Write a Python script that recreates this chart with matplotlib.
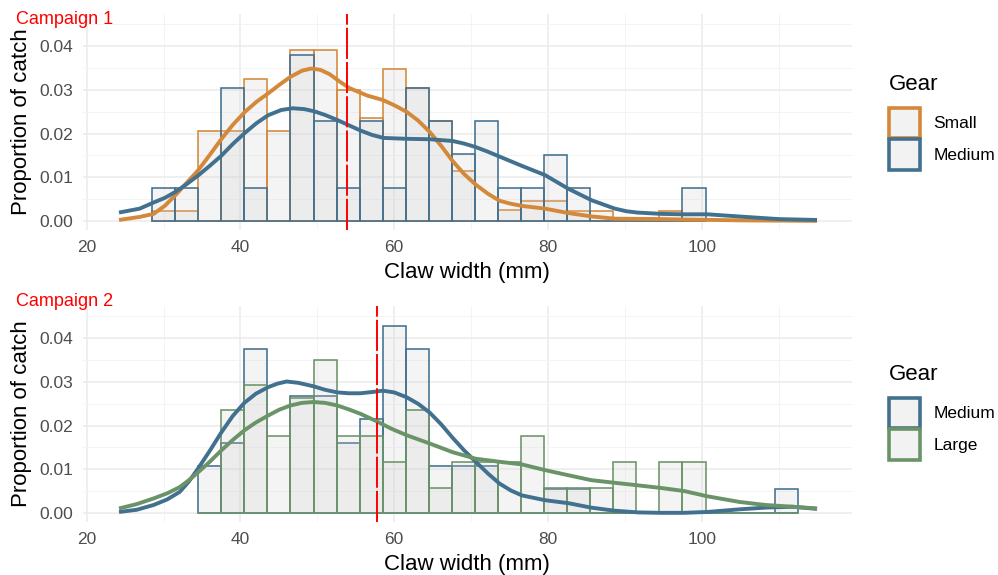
import matplotlib
matplotlib.use("Agg")
import matplotlib.pyplot as plt
from matplotlib.patches import Patch
from matplotlib.ticker import MultipleLocator, FormatStrFormatter

plt.rcParams['font.family'] = ['Liberation Sans', 'DejaVu Sans']

# ---------------- data ----------------
# Campaign 1
c1_bins = [30, 33, 36, 39, 42, 45, 48, 51, 54, 57, 60, 63, 66, 69, 72, 75, 78, 81, 84, 87, 90, 93, 96, 99]
c1_small = [0.0023, 0.0023, 0.0206, 0.0206, 0.0324, 0.0206, 0.0392, 0.0392, 0.0300, 0.0235, 0.0347, 0.0305,
            0.0229, 0.0115, 0.0, 0.0025, 0.0046, 0.0046, 0.0023, 0.0023, 0.0, 0.0, 0.0023, 0.0]
c1_medium = [0.0076, 0.0076, 0.0, 0.0305, 0.0076, 0.0, 0.0380, 0.0229, 0.0076, 0.0229, 0.0076, 0.0305,
             0.0229, 0.0153, 0.0229, 0.0076, 0.0076, 0.0152, 0.0076, 0.0, 0.0, 0.0, 0.0, 0.0076]
c1_small_dens_x = [24.2, 26.9, 28.7, 30.2, 31.6, 33.0, 34.5, 36.0, 37.5, 39.0, 40.6, 42.1, 43.6, 45.0, 46.5, 48.0,
                   49.2, 50.4, 51.6, 53.0, 54.2, 56.5, 58.5, 60.0, 61.6, 63.1, 64.6, 66.1, 67.6, 69.1, 70.6, 72.2,
                   73.7, 75.2, 76.7, 79.6, 82.6, 85.7, 88.7, 94.7, 97.6, 105.7, 115.0]
c1_small_dens_y = [0.0002, 0.0009, 0.0016, 0.0035, 0.0060, 0.0087, 0.0116, 0.0151, 0.0187, 0.0220, 0.0250, 0.0273,
                   0.0292, 0.0311, 0.0330, 0.0344, 0.0349, 0.0346, 0.0336, 0.0318, 0.0304, 0.0287, 0.0277, 0.0265,
                   0.0250, 0.0230, 0.0204, 0.0172, 0.0137, 0.0107, 0.0083, 0.0062, 0.0046, 0.0039, 0.0034, 0.0028,
                   0.0018, 0.0010, 0.0005, 0.0004, 0.0003, 0.0001, 0.0]
c1_medium_dens_x = [24.2, 26.9, 28.7, 30.2, 31.6, 33.0, 34.5, 36.0, 37.5, 39.0, 40.6, 42.1, 43.6, 45.3, 46.8, 48.3,
                    49.6, 51.1, 52.6, 54.1, 55.6, 57.1, 58.6, 61.6, 64.6, 67.6, 69.1, 70.6, 72.1, 73.6, 76.6, 79.6,
                    82.6, 85.7, 88.7, 90.2, 91.6, 94.7, 97.6, 100.7, 105.7, 110.0, 115.0]
c1_medium_dens_y = [0.0019, 0.0028, 0.0042, 0.0053, 0.0067, 0.0084, 0.0104, 0.0126, 0.0149, 0.0176, 0.0202, 0.0224,
                    0.0242, 0.0254, 0.0258, 0.0256, 0.0251, 0.0242, 0.0231, 0.0219, 0.0207, 0.0197, 0.0190, 0.0188,
                    0.0187, 0.0183, 0.0177, 0.0169, 0.0159, 0.0148, 0.0126, 0.0105, 0.0074, 0.0047, 0.0028, 0.0022,
                    0.0019, 0.0016, 0.0015, 0.0015, 0.0009, 0.0004, 0.0002]
c1_mean = 53.9

# Campaign 2
c2_bins = [36, 39, 42, 45, 48, 51, 54, 57, 60, 63, 66, 69, 72, 75, 78, 81, 84, 87, 90, 93, 96, 99, 102, 105, 108, 111]
c2_medium = [0.0107, 0.0161, 0.0376, 0.0, 0.0268, 0.0268, 0.0161, 0.0214, 0.0429, 0.0376, 0.0107, 0.0107, 0.0107,
             0.0, 0.0, 0.0054, 0.0054, 0.0, 0.0, 0.0, 0.0, 0.0, 0.0, 0.0, 0.0, 0.0054]
c2_large = [0.0, 0.0235, 0.0292, 0.0175, 0.0263, 0.0351, 0.0175, 0.0175, 0.0117, 0.0235, 0.0058, 0.0117, 0.0117,
            0.0117, 0.0175, 0.0058, 0.0058, 0.0058, 0.0117, 0.0, 0.0117, 0.0117, 0.0, 0.0, 0.0, 0.0]
c2_medium_dens_x = [24.2, 26.5, 28.7, 30.5, 32.1, 33.3, 34.5, 36.0, 37.5, 39.0, 40.5, 42.0, 43.6, 44.8, 46.0, 47.5,
                    49.5, 51.0, 52.6, 54.1, 55.6, 57.7, 58.5, 60.0, 61.6, 63.1, 64.6, 66.1, 67.6, 69.1, 70.6, 72.2,
                    73.7, 75.2, 76.6, 79.6, 82.7, 85.6, 88.6, 91.7, 94.7, 97.7, 100.7, 104.9, 108.3, 111.8, 115.0]
c2_medium_dens_y = [0.0002, 0.0007, 0.0018, 0.0031, 0.0048, 0.0072, 0.0102, 0.0142, 0.0184, 0.0222, 0.0252, 0.0273,
                    0.0288, 0.0296, 0.0301, 0.0298, 0.0290, 0.0282, 0.0276, 0.0274, 0.0274, 0.0278, 0.0280, 0.0276,
                    0.0265, 0.0250, 0.0230, 0.0203, 0.0172, 0.0143, 0.0117, 0.0090, 0.0067, 0.0051, 0.0040, 0.0029,
                    0.0022, 0.0012, 0.0005, 0.0001, 0.0, 0.0, 0.0002, 0.0008, 0.0012, 0.0014, 0.0009]
c2_large_dens_x = [24.2, 26.5, 28.7, 30.5, 32.1, 33.3, 34.5, 36.0, 37.5, 39.0, 40.5, 42.0, 43.6, 45.0, 46.5, 48.0,
                   49.5, 51.0, 52.6, 54.1, 55.6, 57.7, 59.6, 61.6, 64.6, 67.6, 70.6, 73.7, 76.6, 79.6, 82.7, 85.6,
                   88.6, 91.7, 94.7, 97.7, 100.7, 104.9, 108.3, 111.8, 115.0]
c2_large_dens_y = [0.0010, 0.0020, 0.0033, 0.0045, 0.0059, 0.0075, 0.0093, 0.0117, 0.0143, 0.0167, 0.0189, 0.0207,
                   0.0223, 0.0236, 0.0246, 0.0252, 0.0254, 0.0252, 0.0246, 0.0237, 0.0227, 0.0210, 0.0193, 0.0178,
                   0.0159, 0.0139, 0.0124, 0.0117, 0.0111, 0.0098, 0.0086, 0.0075, 0.0069, 0.0063, 0.0057, 0.0050,
                   0.0038, 0.0025, 0.0018, 0.0014, 0.0010]
c2_mean = 57.8

x_ticks = [20, 40, 60, 80, 100]
y_ticks = [0.00, 0.01, 0.02, 0.03, 0.04]
bin_width = 3

COL = {'Small': '#D4883A', 'Medium': '#42708F', 'Large': '#6B9368'}
FILL = (0.80, 0.80, 0.80, 0.2)

W, H = 998, 575
fig = plt.figure(figsize=(W / 100, H / 100), dpi=100)


def px_axes(left, top, right, bottom):
    return fig.add_axes([left / W, 1 - bottom / H, (right - left) / W, (bottom - top) / H])


def panel(ax, bins, groups, dens, mean, label, legend_top):
    for name, vals in groups:
        ax.bar(bins, vals, width=bin_width, facecolor=FILL, edgecolor=COL[name],
               linewidth=1.15, zorder=2)
    for name, (dx, dy) in dens:
        ax.plot(dx, dy, color=COL[name], linewidth=2.8, solid_capstyle='butt',
                solid_joinstyle='round', zorder=3)
    ax.axvline(mean, color='#FF0000', linewidth=1.4, dashes=(16, 1.6), zorder=4)
    ax.set_xlim(19.45, 119.55)
    ax.set_ylim(-0.0021, 0.0474)
    ax.set_xticks(x_ticks)
    ax.set_yticks(y_ticks)
    ax.xaxis.set_minor_locator(MultipleLocator(10))
    ax.yaxis.set_minor_locator(MultipleLocator(0.005))
    ax.yaxis.set_major_formatter(FormatStrFormatter('%.2f'))
    ax.grid(which='major', color='#EBEBEB', linewidth=1.1, zorder=0)
    ax.grid(which='minor', color='#F3F3F3', linewidth=0.6, zorder=0)
    ax.set_axisbelow(True)
    for s in ax.spines.values():
        s.set_visible(False)
    ax.tick_params(which='both', length=0, labelsize=12.5, labelcolor='#4D4D4D')
    ax.tick_params(axis='x', pad=7)
    ax.tick_params(axis='y', pad=7)
    ax.set_xlabel('Claw width (mm)', fontsize=16, labelpad=5)
    ax.set_ylabel('Proportion of catch', fontsize=16, va='center')
    ax.yaxis.set_label_coords(-0.079, 0.5)
    handles = [Patch(facecolor='#F2F2F2', edgecolor=COL[n], linewidth=2.6, label=n) for n, _ in groups]
    leg = ax.legend(handles=handles, title='Gear', loc='upper left',
                    bbox_to_anchor=(889 / W, 1 - legend_top / H), bbox_transform=fig.transFigure,
                    frameon=False, fontsize=12.5, title_fontsize=16, handlelength=1.8, handleheight=2.35,
                    handletextpad=0.75, labelspacing=0.05, borderpad=0, borderaxespad=0)
    leg._legend_box.align = 'left'
    leg._legend_box.sep = 9
    fig.text(16 / W, 1 - label[1] / H, label[0], color='#FF0000', fontsize=13, va='center', ha='left')


ax1 = px_axes(82.5, 14, 852, 230)
ax2 = px_axes(82.5, 306, 852, 522)

panel(ax1, c1_bins, [('Small', c1_small), ('Medium', c1_medium)],
      [('Small', (c1_small_dens_x, c1_small_dens_y)), ('Medium', (c1_medium_dens_x, c1_medium_dens_y))],
      c1_mean, ('Campaign 1', 19), 74)
panel(ax2, c2_bins, [('Medium', c2_medium), ('Large', c2_large)],
      [('Medium', (c2_medium_dens_x, c2_medium_dens_y)), ('Large', (c2_large_dens_x, c2_large_dens_y))],
      c2_mean, ('Campaign 2', 302), 364)

fig.savefig('out.png', dpi=100)
